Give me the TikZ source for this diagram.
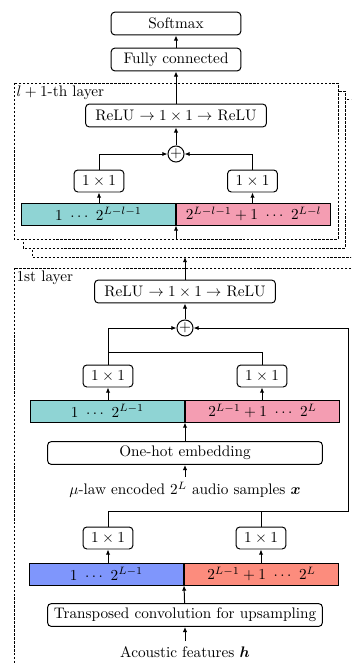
\documentclass[tikz,border=0pt]{standalone}
\usepackage{amsmath}
\usetikzlibrary{arrows.meta}

\definecolor{tealbar}{RGB}{143,212,212}
\definecolor{pinkbar}{RGB}{244,157,178}
\definecolor{bluebar}{RGB}{127,150,252}
\definecolor{salmonbar}{RGB}{252,140,125}

\tikzset{
    blk/.style={draw, rounded corners=2.5pt, fill=white, minimum height=15pt, inner sep=2pt, line width=0.65pt},
    unit/.style={blk, minimum width=32.7pt, minimum height=14.4pt},
    half/.style={draw, minimum height=14.4pt, minimum width=100.9pt, inner sep=0pt, line width=0.65pt},
    sum/.style={draw, circle, inner sep=0pt, minimum size=10.5pt, line width=0.65pt},
    layerbox/.style={draw, fill=white, dash pattern=on 1.6pt off 1pt, line width=0.6pt},
    wire/.style={line width=0.65pt, -{Latex[length=3.4pt,width=2.9pt]}},
    plain/.style={line width=0.65pt}
}

\begin{document}
\begin{tikzpicture}[x=0.655pt, y=-0.655pt]
    \useasboundingbox (0,0) rectangle (351,665);
    \clip (0,0) rectangle (351,665);

    \draw[layerbox] (32,99) rectangle (360,257);
    \draw[layerbox] (23,91) rectangle (345,248);
    \draw[layerbox] (14,83) rectangle (338,239);
    \draw[layerbox] (14,268) rectangle (360,690);

    \node[anchor=north west, inner sep=1.5pt] (lbltop) at (14,83) {$l+1$-th layer};
    \node[anchor=north west, inner sep=1.5pt] (lblbot) at (14,268) {1st layer};

    \node[blk, minimum width=85pt] (softmax) at (176,23.5) {Softmax};
    \node[blk, minimum width=85pt] (fc)      at (176,59.5) {Fully connected};
    \node[blk, minimum width=118.5pt] (reluT) at (176,115.5) {ReLU $\rightarrow 1\times 1 \rightarrow$ ReLU};
    \node[sum] (plusT) at (176,154) {$+$};
    \node[unit] (convTL) at (99,181)    {$1\times 1$};
    \node[unit] (convTR) at (252.5,181) {$1\times 1$};
    \node[half, fill=tealbar, anchor=east] (barTL) at (176,214) {$1\ \cdots\ 2^{L-l-1}$};
    \node[half, fill=pinkbar, anchor=west] (barTR) at (176,214) {$2^{L-l-1}+1\ \cdots\ 2^{L-l}$};
    \coordinate (inT) at (176,239);

    \coordinate (outB) at (185,257);
    \node[blk, minimum width=118.5pt] (reluB) at (185,291.5) {ReLU $\rightarrow 1\times 1 \rightarrow$ ReLU};
    \node[sum] (plusB) at (185,328) {$+$};
    \coordinate (mrg) at (108,352);
    \node[unit] (convBL) at (108,376) {$1\times 1$};
    \node[unit] (convBR) at (262,376) {$1\times 1$};
    \node[half, fill=tealbar, anchor=east] (barBL) at (185,411) {$1\ \cdots\ 2^{L-1}$};
    \node[half, fill=pinkbar, anchor=west] (barBR) at (185,411) {$2^{L-1}+1\ \cdots\ 2^{L}$};
    \node[blk, minimum width=180pt] (onehot) at (185,453) {One-hot embedding};
    \node[] (xlab) at (185,490) {$\mu$-law encoded $2^L$ audio samples $\boldsymbol{x}$};
    \coordinate (cnd) at (348,511);
    \node[unit] (condL) at (108,538) {$1\times 1$};
    \node[unit] (condR) at (261,538) {$1\times 1$};
    \node[half, fill=bluebar, anchor=east]   (barCL) at (184,574) {$1\ \cdots\ 2^{L-1}$};
    \node[half, fill=salmonbar, anchor=west] (barCR) at (184,574) {$2^{L-1}+1\ \cdots\ 2^{L}$};
    \node[blk, minimum width=180pt] (tconv) at (185,615) {Transposed convolution for upsampling};
    \node[] (hlab) at (185,652) {Acoustic features $\boldsymbol{h}$};

    \draw[wire] (fc) -- (softmax);
    \draw[wire] (reluT) -- (fc);
    \draw[wire] (plusT) -- (reluT);
    \draw[wire] (convTL.north) |- (plusT.west);
    \draw[wire] (convTR.north) |- (plusT.east);
    \draw[wire] (barTL.north -| convTL) -- (convTL);
    \draw[wire] (barTR.north -| convTR) -- (convTR);
    \draw[wire] (inT) -- (barTL.south east);

    \draw[wire] (reluB) -- (outB);
    \draw[wire] (plusB) -- (reluB);
    \draw[wire] (convBL.north) |- (plusB.west);
    \draw[plain] (convBR.north) |- (mrg);
    \draw[wire] (barBL.north -| convBL) -- (convBL);
    \draw[wire] (barBR.north -| convBR) -- (convBR);
    \draw[wire] (onehot) -- (barBL.south east);
    \draw[wire] (xlab) -- (onehot);

    \draw[wire] (condL.north) |- (cnd) |- (plusB.east);
    \draw[plain] (condR.north) -- (condR.north |- cnd);
    \draw[wire] (barCL.north -| condL) -- (condL);
    \draw[wire] (barCR.north -| condR) -- (condR);
    \draw[wire] (tconv) -- (barCL.south east);
    \draw[wire] (hlab) -- (tconv);
\end{tikzpicture}
\end{document}
